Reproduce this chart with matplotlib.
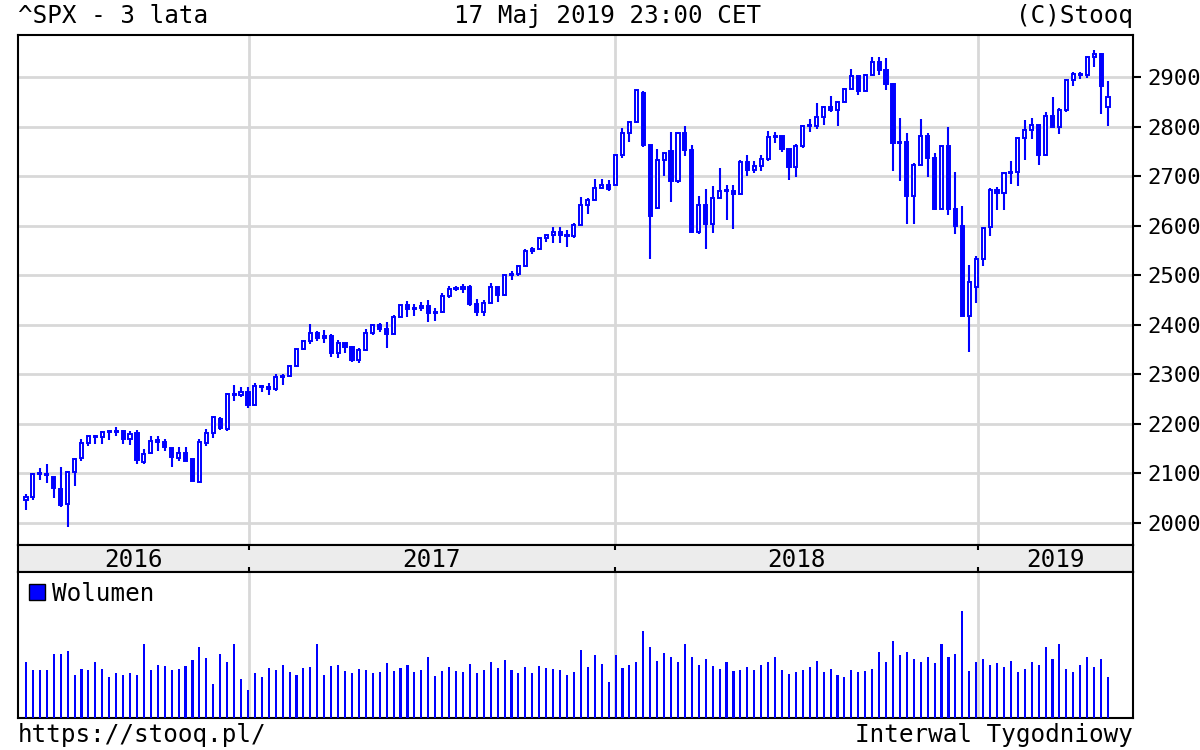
import matplotlib
matplotlib.use("Agg")
import matplotlib.pyplot as plt
import numpy as np

opens = [2046,2052,2100,2099,2092,2068,2038,2103,2132,2162,2175,2174,2184,2184,2185,2170,2181,2123,2141,2164,2164,2151,2132,2142,2129,2083,2162,2182,2210,2190,2260,2258,2264,
 2239,2277,2275,2271,2295,2297,2316,2351,2367,2383,2373,2378,2344,2363,2355,2329,2349,2384,2399,2391,2382,2416,2439,2432,2433,2438,2423,2425,2459,2473,2472,2477,2441,2426,2443,2477,2461,2500,2502,2519,2549,2553,2575,2581,2588,2582,2579,2602,2642,2652,2675,2683,
 2683,2743,2786,2810,2867,2762,2635,2732,2750,2691,2786,2752,2588,2641,2604,2656,2670,2670,2663,2728,2713,2721,2735,2779,2780,2755,2718,2760,2801,2802,2819,2840,2833,2850,2875,2902,2872,2905,2930,2914,2886,2767,2768,2659,2723,2781,2736,2633,2760,2633,2600,2417,
 2476,2532,2597,2671,2665,2707,2708,2776,2793,2804,2743,2822,2800,2834,2893,2907,2905,2940,2946,2840]
highs = [2058,2100,2111,2120,2085,2113,2104,2132,2169,2176,2178,2186,2188,2193,2187,2185,2187,2149,2175,2175,2169,2152,2154,2153,2130,2170,2190,2214,2214,2263,2278,2274,2274,
 2282,2279,2282,2301,2301,2319,2352,2368,2401,2387,2390,2382,2370,2364,2357,2353,2392,2400,2404,2406,2419,2440,2447,2441,2446,2451,2433,2464,2478,2478,2483,2480,2453,2451,2484,2475,2501,2509,2520,2552,2556,2576,2582,2597,2597,2591,2605,2657,2655,2695,2694,2692,
 2743,2797,2810,2873,2872,2763,2754,2747,2790,2786,2802,2762,2660,2674,2680,2717,2683,2682,2732,2742,2731,2742,2791,2790,2764,2746,2764,2804,2816,2848,2841,2862,2850,2877,2916,2903,2906,2941,2940,2939,2888,2817,2788,2726,2815,2786,2746,2760,2800,2708,2640,2520,
 2539,2597,2675,2679,2708,2731,2776,2814,2817,2804,2830,2860,2837,2895,2910,2910,2940,2954,2948,2892]
lows = [2026,2047,2086,2080,2050,2032,1992,2074,2125,2155,2159,2159,2168,2175,2159,2158,2120,2119,2139,2145,2145,2114,2126,2125,2084,2085,2156,2172,2187,2186,2246,2254,2233,
 2238,2265,2259,2267,2279,2294,2314,2350,2362,2367,2363,2334,2333,2344,2324,2322,2348,2380,2385,2353,2382,2415,2415,2418,2428,2405,2408,2424,2455,2468,2464,2437,2418,2417,2446,2446,2458,2491,2498,2518,2542,2551,2567,2566,2566,2557,2576,2605,2624,2651,2673,2669,
 2682,2737,2768,2808,2759,2533,2634,2700,2647,2686,2741,2586,2584,2553,2586,2653,2612,2594,2665,2701,2707,2711,2731,2767,2749,2692,2699,2757,2789,2795,2804,2830,2802,2850,2876,2864,2874,2904,2905,2874,2710,2691,2604,2603,2722,2698,2631,2649,2621,2583,2545,2346,
 2443,2519,2580,2632,2631,2685,2681,2733,2775,2722,2741,2800,2785,2829,2881,2896,2898,2920,2826,2801]
closes = [2052,2099,2099,2096,2071,2037,2103,2130,2162,2175,2174,2183,2184,2184,2169,2180,2128,2139,2165,2168,2153,2133,2141,2126,2085,2164,2182,2213,2192,2260,2258,2264,2239,
 2277,2275,2271,2295,2297,2316,2351,2367,2383,2373,2378,2344,2363,2355,2329,2349,2384,2399,2391,2382,2416,2439,2432,2433,2438,2423,2425,2459,2473,2472,2477,2441,2426,2443,2477,2461,2500,2502,2519,2549,2553,2575,2581,2588,2582,2579,2602,2642,2652,2675,2683,2674,
 2743,2786,2810,2873,2762,2620,2732,2747,2691,2786,2752,2588,2641,2604,2656,2670,2670,2663,2728,2713,2721,2735,2779,2780,2755,2718,2760,2801,2802,2819,2840,2833,2850,2875,2902,2872,2905,2930,2914,2886,2767,2768,2659,2723,2781,2736,2633,2760,2633,2600,2417,2486,
 2532,2596,2671,2665,2707,2708,2776,2793,2804,2743,2822,2800,2834,2893,2907,2905,2940,2946,2881,2860]
volume = [55,47,47,47,63,63,66,42,48,47,55,48,40,44,42,44,42,72,47,52,51,47,48,51,57,70,59,33,63,55,72,38,27,
 44,40,49,47,52,45,42,49,50,72,42,51,52,46,44,48,47,44,45,54,46,49,52,45,47,60,41,46,50,46,45,53,44,47,55,49,57,47,44,50,44,51,49,48,47,42,45,67,50,62,53,35,
 62,49,52,55,85,70,56,64,60,55,72,60,52,58,51,48,55,46,47,50,47,52,55,60,47,43,45,47,50,56,45,48,42,40,47,45,46,48,65,55,75,62,65,58,55,60,54,72,60,63,105,46,
 55,58,52,54,50,56,45,48,55,52,70,58,72,48,45,52,60,50,58,40]
years = ["2016", "2017", "2018", "2019"]
price_ticks = [2000, 2100, 2200, 2300, 2400, 2500, 2600, 2700, 2800, 2900]

n = len(closes)

BLUE = "#0000ff"
GRID = "#d8d8d8"
FONT = "DejaVu Sans Mono"
plt.rcParams["font.family"] = FONT
FS = 17.5

fig = plt.figure(figsize=(12, 7.5), dpi=100)
L, W = 18/1200, (1133-18)/1200
ax = fig.add_axes([L, 1-545/750, W, (545-35)/750])
band = fig.add_axes([L, 1-572/750, W, 27/750])
vax = fig.add_axes([L, 1-718/750, W, (718-572)/750])

sp = (1108-26)/156
xlim = (-(26-18)/sp, 156 + (1133-1108)/sp)
year_lines = [(249-26)/sp, (615-26)/sp, (978-26)/sp]
year_bounds = [xlim[0]] + year_lines + [xlim[1]]

x = np.arange(n)
o = np.array(opens); c = np.array(closes); h = np.array(highs); l = np.array(lows)
up = c >= o
ax.vlines(x, l, h, color=BLUE, lw=1.5, zorder=2)
body = np.where(np.abs(c-o) < 1.5, 1.5, c-o)
ax.bar(x[up], np.abs(body[up]), bottom=o[up], width=0.45, facecolor="white", edgecolor=BLUE, lw=1.4, zorder=3)
ax.bar(x[~up], np.abs(body[~up]), bottom=c[~up], width=0.45, facecolor=BLUE, edgecolor=BLUE, lw=1.4, zorder=3)

ytop = 2900 + (77-35)/0.49556
ybot = 2000 - (545-523)/0.49556
ax.set_ylim(ybot, ytop)
ax.set_xlim(*xlim)
for t in price_ticks:
    ax.axhline(t, color=GRID, lw=2, zorder=0)
for xl in year_lines:
    ax.axvline(xl, color=GRID, lw=2, zorder=0)
ax.yaxis.tick_right()
ax.set_yticks(price_ticks)
ax.set_yticklabels([str(t) for t in price_ticks], fontsize=16)
ax.tick_params(axis="y", direction="out", length=6, width=1.5, pad=4)
ax.set_xticks([])
for s in ax.spines.values():
    s.set_linewidth(1.5)

band.set_facecolor("#ececec")
band.set_xlim(*xlim); band.set_ylim(0, 1)
band.set_xticks([]); band.set_yticks([])
for s in band.spines.values():
    s.set_linewidth(1.5)
for xl in year_lines:
    band.vlines(xl, 0.8, 1, color="black", lw=1.5)
    band.vlines(xl, 0, 0.2, color="black", lw=1.5)
for i, yname in enumerate(years):
    band.text((year_bounds[i]+year_bounds[i+1])/2, 0.45, yname, ha="center", va="center", fontsize=FS)

vax.bar(x, volume, width=0.3, color=BLUE, zorder=3)
vax.set_xlim(*xlim); vax.set_ylim(0, 143)
for xl in year_lines:
    vax.axvline(xl, color=GRID, lw=2, zorder=0)
vax.set_xticks([]); vax.set_yticks([])
for s in vax.spines.values():
    s.set_linewidth(1.5)
vax.plot([], [], "s", color=BLUE, mec="black", ms=11, label="Wolumen")
vax.legend(loc="upper left", frameon=False, fontsize=FS, handletextpad=0.2, borderaxespad=0.1, borderpad=0.3, handlelength=0.8)

fig.text(18/1200, 1-16/750, "^SPX - 3 lata", fontsize=FS, va="center", ha="left")
fig.text(608/1200, 1-16/750, "17 Maj 2019 23:00 CET", fontsize=FS, va="center", ha="center")
fig.text(1133/1200, 1-16/750, "(C)Stooq", fontsize=FS, va="center", ha="right")
fig.text(18/1200, 1-735/750, "https://stooq.pl/", fontsize=FS, va="center", ha="left")
fig.text(1133/1200, 1-735/750, "Interwal Tygodniowy", fontsize=FS, va="center", ha="right")

fig.savefig("out.png", dpi=100)
